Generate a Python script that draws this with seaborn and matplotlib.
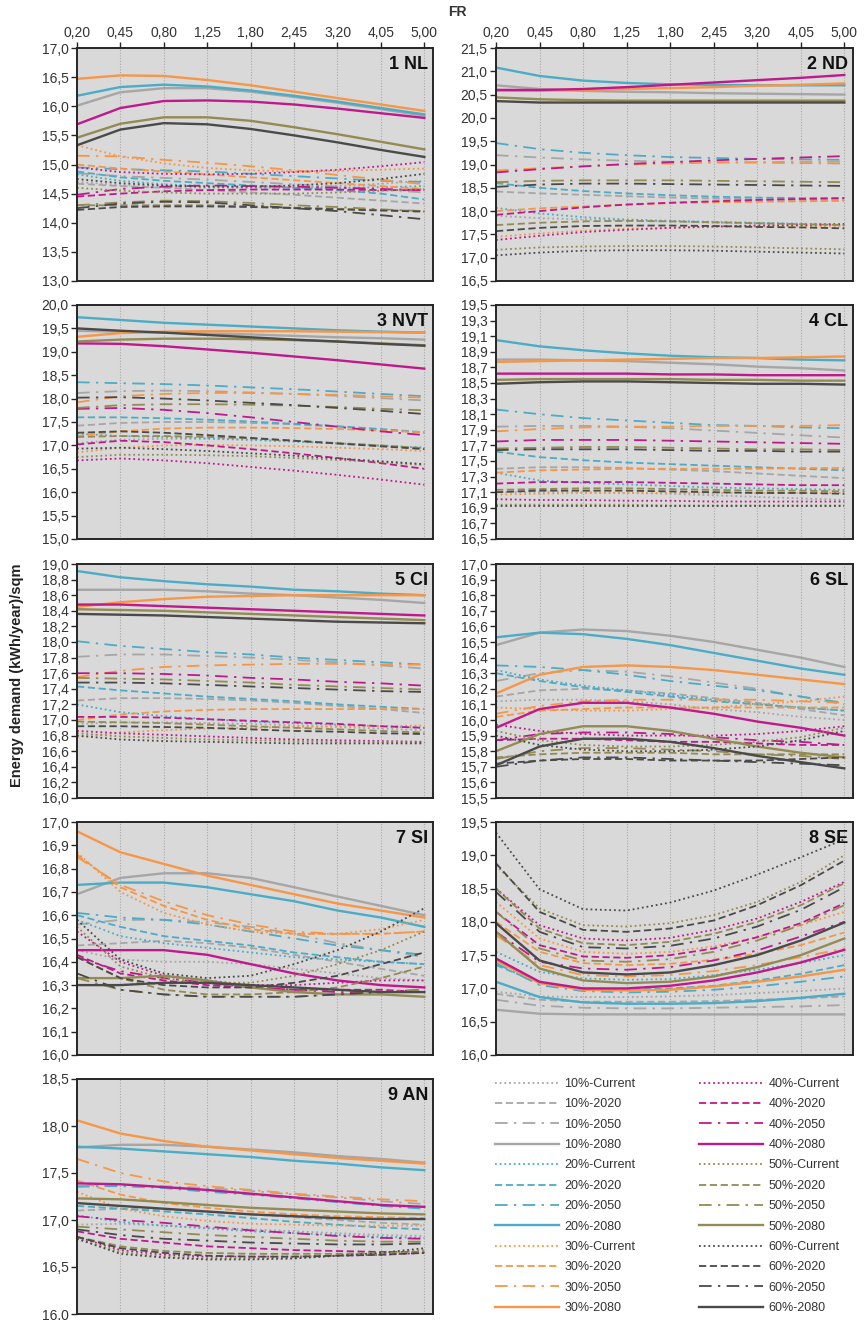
import numpy as np
import pandas as pd
import matplotlib
matplotlib.use("Agg")
import matplotlib.pyplot as plt
from matplotlib.lines import Line2D
from matplotlib.ticker import FuncFormatter
import seaborn as sns

# ---- data -----------------------------------------------------------------
FR_LABELS = ["0,20", "0,45", "0,80", "1,25", "1,80", "2,45", "3,20", "4,05", "5,00"]
SHARES = ["10%", "20%", "30%", "40%", "50%", "60%"]
PERIODS = ["Current", "2020", "2050", "2080"]
REGIONS = ["1 NL", "2 ND", "3 NVT", "4 CL", "5 CI", "6 SL", "7 SI", "8 SE", "9 AN"]

# rows: for each share (10% .. 60%) the periods Current, 2020, 2050, 2080
nl = [
    [14.70, 14.65, 14.62, 14.60, 14.60, 14.61, 14.63, 14.67, 14.72],
    [14.67, 14.63, 14.60, 14.56, 14.52, 14.48, 14.43, 14.38, 14.33],
    [14.85, 14.80, 14.77, 14.74, 14.70, 14.66, 14.62, 14.57, 14.52],
    [16.01, 16.24, 16.31, 16.31, 16.25, 16.16, 16.06, 15.95, 15.84],
    [14.83, 14.72, 14.66, 14.63, 14.61, 14.60, 14.60, 14.61, 14.63],
    [14.88, 14.78, 14.72, 14.68, 14.64, 14.60, 14.56, 14.50, 14.40],
    [14.95, 14.92, 14.90, 14.88, 14.84, 14.80, 14.76, 14.72, 14.70],
    [16.18, 16.33, 16.37, 16.34, 16.27, 16.18, 16.08, 15.97, 15.86],
    [15.33, 15.14, 15.02, 14.94, 14.90, 14.88, 14.89, 14.91, 14.93],
    [15.00, 14.93, 14.88, 14.83, 14.78, 14.73, 14.68, 14.63, 14.58],
    [15.15, 15.14, 15.08, 15.03, 14.97, 14.90, 14.82, 14.74, 14.66],
    [16.47, 16.53, 16.52, 16.45, 16.36, 16.25, 16.14, 16.03, 15.92],
    [14.95, 14.87, 14.84, 14.83, 14.84, 14.87, 14.91, 14.97, 15.04],
    [14.45, 14.50, 14.54, 14.56, 14.57, 14.57, 14.57, 14.56, 14.56],
    [14.48, 14.58, 14.62, 14.64, 14.63, 14.62, 14.60, 14.58, 14.56],
    [15.69, 15.97, 16.09, 16.10, 16.08, 16.03, 15.96, 15.88, 15.80],
    [14.60, 14.55, 14.52, 14.50, 14.50, 14.50, 14.52, 14.55, 14.58],
    [14.30, 14.30, 14.30, 14.30, 14.28, 14.26, 14.24, 14.22, 14.20],
    [14.30, 14.35, 14.38, 14.37, 14.34, 14.30, 14.27, 14.23, 14.20],
    [15.46, 15.70, 15.81, 15.81, 15.75, 15.64, 15.52, 15.39, 15.26],
    [14.75, 14.68, 14.64, 14.62, 14.62, 14.64, 14.68, 14.75, 14.84],
    [14.22, 14.27, 14.28, 14.28, 14.27, 14.25, 14.23, 14.21, 14.19],
    [14.25, 14.33, 14.36, 14.35, 14.30, 14.25, 14.20, 14.13, 14.06],
    [15.33, 15.60, 15.71, 15.69, 15.61, 15.50, 15.38, 15.25, 15.13],
]

nd = [
    [17.90, 17.85, 17.82, 17.80, 17.78, 17.75, 17.73, 17.71, 17.70],
    [18.42, 18.38, 18.35, 18.32, 18.29, 18.27, 18.25, 18.24, 18.23],
    [19.20, 19.15, 19.11, 19.08, 19.06, 19.05, 19.04, 19.03, 19.02],
    [20.70, 20.62, 20.58, 20.56, 20.55, 20.53, 20.52, 20.51, 20.50],
    [18.07, 17.95, 17.87, 17.82, 17.79, 17.77, 17.75, 17.73, 17.72],
    [18.60, 18.50, 18.43, 18.38, 18.34, 18.31, 18.29, 18.28, 18.27],
    [19.46, 19.33, 19.25, 19.20, 19.16, 19.14, 19.12, 19.11, 19.10],
    [21.08, 20.90, 20.80, 20.75, 20.72, 20.71, 20.70, 20.70, 20.70],
    [17.45, 17.52, 17.58, 17.62, 17.64, 17.66, 17.67, 17.67, 17.67],
    [18.00, 18.06, 18.10, 18.14, 18.17, 18.19, 18.20, 18.21, 18.22],
    [18.87, 18.92, 18.96, 19.00, 19.02, 19.04, 19.05, 19.06, 19.06],
    [20.58, 20.58, 20.60, 20.62, 20.64, 20.66, 20.69, 20.71, 20.74],
    [17.38, 17.47, 17.55, 17.60, 17.64, 17.67, 17.69, 17.70, 17.72],
    [17.92, 18.00, 18.08, 18.14, 18.18, 18.21, 18.24, 18.26, 18.28],
    [18.83, 18.90, 18.96, 19.01, 19.05, 19.09, 19.12, 19.15, 19.18],
    [20.60, 20.60, 20.62, 20.66, 20.71, 20.76, 20.81, 20.86, 20.92],
    [17.17, 17.22, 17.24, 17.25, 17.25, 17.24, 17.22, 17.20, 17.18],
    [17.70, 17.75, 17.78, 17.79, 17.78, 17.76, 17.74, 17.72, 17.70],
    [18.62, 18.65, 18.66, 18.66, 18.66, 18.65, 18.64, 18.63, 18.62],
    [20.44, 20.40, 20.38, 20.37, 20.37, 20.37, 20.37, 20.37, 20.37],
    [17.05, 17.11, 17.15, 17.16, 17.16, 17.15, 17.13, 17.11, 17.09],
    [17.57, 17.64, 17.68, 17.69, 17.69, 17.68, 17.66, 17.65, 17.63],
    [18.52, 18.57, 18.59, 18.59, 18.58, 18.57, 18.56, 18.55, 18.54],
    [20.36, 20.33, 20.33, 20.33, 20.33, 20.33, 20.33, 20.33, 20.33],
]

nvt = [
    [17.05, 17.12, 17.14, 17.14, 17.12, 17.09, 17.05, 17.00, 16.95],
    [17.42, 17.48, 17.50, 17.50, 17.48, 17.45, 17.40, 17.34, 17.27],
    [18.12, 18.16, 18.17, 18.16, 18.13, 18.10, 18.06, 18.01, 17.96],
    [19.45, 19.43, 19.41, 19.39, 19.37, 19.34, 19.31, 19.29, 19.26],
    [17.25, 17.20, 17.18, 17.15, 17.12, 17.08, 17.04, 16.99, 16.95],
    [17.60, 17.60, 17.58, 17.55, 17.51, 17.46, 17.41, 17.35, 17.28],
    [18.35, 18.33, 18.31, 18.28, 18.24, 18.20, 18.15, 18.10, 18.05],
    [19.74, 19.68, 19.62, 19.58, 19.54, 19.50, 19.46, 19.43, 19.41],
    [16.85, 16.95, 17.00, 17.01, 17.00, 16.98, 16.95, 16.92, 16.88],
    [17.20, 17.30, 17.36, 17.38, 17.38, 17.37, 17.35, 17.32, 17.28],
    [17.92, 18.05, 18.10, 18.12, 18.12, 18.10, 18.08, 18.05, 18.02],
    [19.32, 19.40, 19.43, 19.44, 19.44, 19.44, 19.43, 19.42, 19.41],
    [16.68, 16.72, 16.68, 16.62, 16.54, 16.46, 16.37, 16.27, 16.16],
    [17.02, 17.10, 17.07, 17.00, 16.92, 16.83, 16.73, 16.62, 16.50],
    [17.78, 17.80, 17.76, 17.69, 17.60, 17.50, 17.40, 17.30, 17.22],
    [19.18, 19.17, 19.12, 19.05, 18.98, 18.90, 18.82, 18.73, 18.64],
    [16.75, 16.80, 16.80, 16.79, 16.77, 16.73, 16.69, 16.64, 16.58],
    [17.18, 17.20, 17.20, 17.18, 17.15, 17.10, 17.05, 17.00, 16.94],
    [17.80, 17.86, 17.88, 17.88, 17.87, 17.85, 17.82, 17.78, 17.75],
    [19.22, 19.26, 19.28, 19.28, 19.27, 19.25, 19.22, 19.18, 19.14],
    [16.93, 16.95, 16.92, 16.88, 16.83, 16.78, 16.72, 16.66, 16.60],
    [17.27, 17.30, 17.27, 17.22, 17.16, 17.10, 17.04, 16.98, 16.92],
    [18.02, 18.03, 18.00, 17.96, 17.91, 17.86, 17.80, 17.74, 17.67],
    [19.50, 19.45, 19.41, 19.36, 19.31, 19.26, 19.22, 19.17, 19.13],
]

cl = [
    [17.10, 17.10, 17.10, 17.09, 17.08, 17.06, 17.04, 17.02, 17.00],
    [17.40, 17.42, 17.42, 17.41, 17.39, 17.37, 17.34, 17.31, 17.28],
    [17.94, 17.95, 17.95, 17.94, 17.92, 17.89, 17.86, 17.83, 17.80],
    [18.80, 18.80, 18.79, 18.78, 18.76, 18.74, 18.71, 18.69, 18.66],
    [17.35, 17.25, 17.22, 17.20, 17.18, 17.16, 17.15, 17.14, 17.13],
    [17.62, 17.55, 17.51, 17.48, 17.46, 17.44, 17.42, 17.40, 17.38],
    [18.16, 18.10, 18.05, 18.02, 17.99, 17.96, 17.95, 17.93, 17.92],
    [19.05, 18.97, 18.92, 18.88, 18.85, 18.83, 18.82, 18.80, 18.79],
    [17.07, 17.08, 17.09, 17.09, 17.09, 17.09, 17.09, 17.09, 17.09],
    [17.35, 17.38, 17.39, 17.40, 17.40, 17.40, 17.40, 17.41, 17.41],
    [17.88, 17.91, 17.93, 17.94, 17.94, 17.95, 17.95, 17.95, 17.96],
    [18.77, 18.78, 18.79, 18.80, 18.81, 18.82, 18.82, 18.83, 18.84],
    [17.01, 17.00, 17.00, 16.99, 16.99, 16.98, 16.98, 16.98, 16.98],
    [17.21, 17.23, 17.23, 17.23, 17.22, 17.21, 17.20, 17.19, 17.19],
    [17.75, 17.77, 17.77, 17.77, 17.76, 17.75, 17.74, 17.73, 17.72],
    [18.62, 18.62, 18.62, 18.62, 18.61, 18.61, 18.60, 18.60, 18.60],
    [16.94, 16.94, 16.94, 16.94, 16.93, 16.93, 16.93, 16.93, 16.93],
    [17.13, 17.14, 17.15, 17.15, 17.14, 17.13, 17.12, 17.12, 17.11],
    [17.66, 17.67, 17.68, 17.68, 17.67, 17.66, 17.65, 17.65, 17.64],
    [18.54, 18.55, 18.55, 18.55, 18.55, 18.54, 18.54, 18.53, 18.53],
    [16.92, 16.92, 16.92, 16.92, 16.92, 16.92, 16.92, 16.92, 16.92],
    [17.10, 17.12, 17.12, 17.12, 17.11, 17.10, 17.09, 17.09, 17.08],
    [17.64, 17.65, 17.65, 17.65, 17.64, 17.63, 17.63, 17.62, 17.62],
    [18.49, 18.51, 18.52, 18.52, 18.51, 18.50, 18.49, 18.49, 18.48],
]

ci = [
    [16.95, 16.97, 16.97, 16.96, 16.95, 16.93, 16.91, 16.89, 16.87],
    [17.25, 17.28, 17.28, 17.27, 17.25, 17.22, 17.18, 17.14, 17.09],
    [17.81, 17.84, 17.84, 17.82, 17.80, 17.77, 17.74, 17.70, 17.66],
    [18.67, 18.67, 18.67, 18.65, 18.62, 18.60, 18.57, 18.54, 18.50],
    [17.20, 17.10, 17.05, 17.01, 16.98, 16.96, 16.94, 16.92, 16.90],
    [17.43, 17.38, 17.34, 17.30, 17.27, 17.24, 17.20, 17.17, 17.14],
    [18.01, 17.95, 17.91, 17.87, 17.84, 17.80, 17.77, 17.74, 17.71],
    [18.91, 18.83, 18.78, 18.74, 18.71, 18.67, 18.65, 18.62, 18.60],
    [16.78, 16.84, 16.87, 16.89, 16.90, 16.91, 16.92, 16.92, 16.93],
    [17.00, 17.07, 17.11, 17.13, 17.14, 17.14, 17.14, 17.14, 17.14],
    [17.55, 17.63, 17.68, 17.70, 17.71, 17.72, 17.72, 17.71, 17.71],
    [18.45, 18.51, 18.55, 18.58, 18.59, 18.60, 18.60, 18.60, 18.60],
    [16.86, 16.83, 16.81, 16.79, 16.77, 16.75, 16.74, 16.73, 16.72],
    [17.04, 17.04, 17.03, 17.01, 16.99, 16.97, 16.95, 16.92, 16.90],
    [17.60, 17.60, 17.59, 17.57, 17.54, 17.52, 17.49, 17.47, 17.44],
    [18.48, 18.48, 18.46, 18.44, 18.42, 18.40, 18.38, 18.36, 18.34],
    [16.83, 16.79, 16.77, 16.75, 16.74, 16.73, 16.72, 16.72, 16.71],
    [16.98, 16.97, 16.96, 16.94, 16.92, 16.90, 16.88, 16.86, 16.84],
    [17.54, 17.53, 17.52, 17.50, 17.48, 17.45, 17.43, 17.41, 17.39],
    [18.42, 18.41, 18.40, 18.38, 18.36, 18.34, 18.32, 18.30, 18.28],
    [16.80, 16.75, 16.73, 16.72, 16.71, 16.70, 16.70, 16.70, 16.70],
    [16.92, 16.92, 16.91, 16.90, 16.88, 16.86, 16.85, 16.83, 16.82],
    [17.48, 17.48, 17.47, 17.45, 17.43, 17.41, 17.39, 17.37, 17.36],
    [18.36, 18.35, 18.34, 18.32, 18.30, 18.28, 18.26, 18.25, 18.24],
]

sl = [
    [16.12, 16.13, 16.13, 16.12, 16.10, 16.07, 16.05, 16.02, 16.00],
    [16.15, 16.19, 16.20, 16.19, 16.17, 16.14, 16.11, 16.07, 16.03],
    [16.25, 16.30, 16.32, 16.31, 16.28, 16.24, 16.20, 16.15, 16.10],
    [16.48, 16.56, 16.58, 16.57, 16.54, 16.50, 16.45, 16.40, 16.34],
    [16.32, 16.26, 16.22, 16.19, 16.16, 16.13, 16.10, 16.08, 16.06],
    [16.30, 16.25, 16.21, 16.18, 16.15, 16.12, 16.10, 16.08, 16.06],
    [16.35, 16.34, 16.32, 16.29, 16.25, 16.22, 16.19, 16.15, 16.11],
    [16.53, 16.56, 16.55, 16.52, 16.48, 16.43, 16.38, 16.33, 16.29],
    [16.08, 16.07, 16.06, 16.06, 16.07, 16.08, 16.10, 16.12, 16.15],
    [16.02, 16.06, 16.07, 16.08, 16.08, 16.08, 16.08, 16.08, 16.08],
    [16.04, 16.09, 16.12, 16.13, 16.13, 16.13, 16.13, 16.12, 16.11],
    [16.17, 16.29, 16.34, 16.35, 16.34, 16.32, 16.29, 16.26, 16.23],
    [15.97, 15.93, 15.91, 15.90, 15.90, 15.90, 15.91, 15.93, 15.96],
    [15.87, 15.88, 15.88, 15.87, 15.86, 15.86, 15.85, 15.84, 15.84],
    [15.87, 15.91, 15.92, 15.92, 15.91, 15.89, 15.87, 15.86, 15.84],
    [15.95, 16.07, 16.11, 16.11, 16.08, 16.04, 15.99, 15.95, 15.90],
    [15.93, 15.87, 15.84, 15.83, 15.83, 15.84, 15.86, 15.89, 15.95],
    [15.76, 15.78, 15.79, 15.79, 15.79, 15.78, 15.78, 15.78, 15.78],
    [15.75, 15.80, 15.82, 15.82, 15.81, 15.80, 15.78, 15.77, 15.75],
    [15.80, 15.91, 15.96, 15.96, 15.93, 15.88, 15.83, 15.79, 15.76],
    [15.90, 15.84, 15.81, 15.80, 15.80, 15.81, 15.83, 15.87, 15.93],
    [15.72, 15.74, 15.75, 15.75, 15.74, 15.74, 15.74, 15.75, 15.76],
    [15.70, 15.74, 15.76, 15.76, 15.75, 15.74, 15.73, 15.72, 15.71],
    [15.71, 15.83, 15.88, 15.88, 15.86, 15.82, 15.77, 15.73, 15.69],
]

si = [
    [16.45, 16.41, 16.40, 16.40, 16.39, 16.37, 16.35, 16.33, 16.32],
    [16.47, 16.48, 16.49, 16.48, 16.46, 16.43, 16.40, 16.37, 16.34],
    [16.56, 16.58, 16.58, 16.57, 16.55, 16.52, 16.48, 16.45, 16.42],
    [16.69, 16.76, 16.78, 16.78, 16.76, 16.72, 16.68, 16.64, 16.60],
    [16.58, 16.51, 16.48, 16.46, 16.44, 16.42, 16.41, 16.40, 16.39],
    [16.60, 16.55, 16.51, 16.49, 16.47, 16.44, 16.42, 16.40, 16.39],
    [16.61, 16.59, 16.58, 16.56, 16.53, 16.50, 16.47, 16.45, 16.43],
    [16.73, 16.74, 16.74, 16.72, 16.69, 16.66, 16.62, 16.59, 16.55],
    [16.87, 16.70, 16.61, 16.56, 16.53, 16.52, 16.52, 16.54, 16.58],
    [16.86, 16.72, 16.64, 16.58, 16.54, 16.52, 16.52, 16.52, 16.53],
    [16.85, 16.73, 16.66, 16.60, 16.56, 16.53, 16.52, 16.52, 16.53],
    [16.96, 16.87, 16.82, 16.77, 16.73, 16.69, 16.65, 16.62, 16.59],
    [16.53, 16.40, 16.34, 16.32, 16.30, 16.30, 16.31, 16.32, 16.32],
    [16.43, 16.35, 16.32, 16.30, 16.29, 16.28, 16.28, 16.28, 16.27],
    [16.42, 16.36, 16.33, 16.31, 16.29, 16.28, 16.27, 16.27, 16.28],
    [16.45, 16.45, 16.45, 16.43, 16.39, 16.35, 16.32, 16.30, 16.29],
    [16.55, 16.38, 16.33, 16.31, 16.31, 16.34, 16.39, 16.45, 16.53],
    [16.42, 16.33, 16.28, 16.26, 16.26, 16.27, 16.29, 16.33, 16.38],
    [16.33, 16.28, 16.26, 16.25, 16.25, 16.25, 16.26, 16.27, 16.28],
    [16.33, 16.33, 16.34, 16.32, 16.29, 16.27, 16.26, 16.26, 16.25],
    [16.58, 16.41, 16.35, 16.33, 16.34, 16.39, 16.45, 16.53, 16.63],
    [16.42, 16.33, 16.30, 16.29, 16.29, 16.31, 16.34, 16.39, 16.44],
    [16.35, 16.28, 16.26, 16.25, 16.25, 16.25, 16.26, 16.27, 16.27],
    [16.30, 16.30, 16.31, 16.31, 16.30, 16.29, 16.28, 16.27, 16.27],
]

se = [
    [16.95, 16.88, 16.87, 16.87, 16.88, 16.90, 16.93, 16.96, 17.00],
    [16.92, 16.83, 16.80, 16.80, 16.80, 16.81, 16.83, 16.85, 16.88],
    [16.83, 16.74, 16.71, 16.70, 16.70, 16.71, 16.72, 16.73, 16.75],
    [16.68, 16.62, 16.61, 16.61, 16.61, 16.61, 16.61, 16.61, 16.61],
    [17.55, 17.25, 17.15, 17.13, 17.14, 17.20, 17.28, 17.38, 17.50],
    [17.35, 17.08, 17.00, 16.98, 17.00, 17.04, 17.12, 17.22, 17.35],
    [17.38, 17.05, 16.96, 16.94, 16.95, 16.98, 17.03, 17.10, 17.18],
    [17.10, 16.87, 16.79, 16.77, 16.77, 16.78, 16.81, 16.86, 16.92],
    [18.30, 17.75, 17.55, 17.52, 17.55, 17.63, 17.77, 17.95, 18.15],
    [18.00, 17.55, 17.38, 17.35, 17.37, 17.43, 17.52, 17.65, 17.84],
    [17.80, 17.35, 17.20, 17.18, 17.20, 17.26, 17.35, 17.47, 17.60],
    [17.42, 17.08, 16.98, 16.97, 16.98, 17.03, 17.10, 17.18, 17.28],
    [18.50, 17.95, 17.75, 17.72, 17.76, 17.88, 18.05, 18.30, 18.60],
    [18.15, 17.65, 17.48, 17.46, 17.50, 17.60, 17.77, 17.98, 18.28],
    [17.85, 17.40, 17.30, 17.28, 17.32, 17.42, 17.57, 17.78, 18.00],
    [17.45, 17.10, 17.00, 17.00, 17.04, 17.12, 17.24, 17.39, 17.58],
    [18.85, 18.20, 17.95, 17.93, 17.98, 18.10, 18.30, 18.60, 19.00],
    [18.50, 17.90, 17.68, 17.65, 17.70, 17.82, 18.00, 18.25, 18.58],
    [18.15, 17.60, 17.42, 17.40, 17.44, 17.55, 17.72, 17.95, 18.25],
    [17.85, 17.30, 17.12, 17.08, 17.10, 17.18, 17.32, 17.50, 17.75],
    [19.34, 18.49, 18.19, 18.17, 18.29, 18.47, 18.71, 18.97, 19.24],
    [18.88, 18.15, 17.88, 17.85, 17.90, 18.02, 18.25, 18.55, 18.92],
    [18.45, 17.85, 17.62, 17.60, 17.64, 17.75, 17.93, 18.18, 18.52],
    [17.98, 17.42, 17.24, 17.21, 17.24, 17.35, 17.50, 17.72, 17.99],
]

an = [
    [16.95, 16.96, 16.94, 16.92, 16.90, 16.88, 16.86, 16.84, 16.83],
    [17.10, 17.12, 17.11, 17.09, 17.06, 17.03, 17.00, 16.97, 16.95],
    [17.35, 17.37, 17.36, 17.34, 17.31, 17.27, 17.24, 17.20, 17.17],
    [17.77, 17.80, 17.80, 17.78, 17.75, 17.72, 17.68, 17.65, 17.61],
    [17.05, 16.98, 16.94, 16.91, 16.88, 16.86, 16.84, 16.82, 16.81],
    [17.15, 17.12, 17.09, 17.06, 17.02, 16.98, 16.95, 16.92, 16.90],
    [17.36, 17.36, 17.34, 17.30, 17.27, 17.23, 17.19, 17.15, 17.12],
    [17.78, 17.76, 17.73, 17.70, 17.67, 17.63, 17.60, 17.56, 17.53],
    [17.30, 17.12, 17.04, 16.99, 16.96, 16.95, 16.94, 16.94, 16.94],
    [17.42, 17.27, 17.18, 17.13, 17.09, 17.06, 17.04, 17.03, 17.02],
    [17.65, 17.50, 17.41, 17.36, 17.32, 17.28, 17.25, 17.22, 17.20],
    [18.06, 17.92, 17.84, 17.78, 17.74, 17.70, 17.66, 17.63, 17.60],
    [16.82, 16.68, 16.63, 16.61, 16.61, 16.61, 16.62, 16.63, 16.65],
    [16.88, 16.80, 16.76, 16.72, 16.70, 16.68, 16.67, 16.66, 16.66],
    [17.04, 17.00, 16.97, 16.93, 16.89, 16.86, 16.83, 16.81, 16.80],
    [17.39, 17.38, 17.35, 17.32, 17.28, 17.24, 17.20, 17.16, 17.14],
    [16.80, 16.66, 16.61, 16.59, 16.59, 16.60, 16.62, 16.64, 16.68],
    [16.82, 16.72, 16.67, 16.65, 16.64, 16.64, 16.64, 16.65, 16.66],
    [16.93, 16.90, 16.87, 16.84, 16.82, 16.80, 16.78, 16.77, 16.77],
    [17.23, 17.22, 17.19, 17.16, 17.13, 17.11, 17.09, 17.07, 17.06],
    [16.80, 16.64, 16.60, 16.58, 16.58, 16.59, 16.62, 16.65, 16.70],
    [16.82, 16.70, 16.65, 16.62, 16.61, 16.61, 16.62, 16.63, 16.65],
    [16.90, 16.84, 16.80, 16.78, 16.76, 16.75, 16.74, 16.74, 16.75],
    [17.18, 17.15, 17.12, 17.09, 17.06, 17.04, 17.02, 17.01, 17.01],
]

PANELS = [nl, nd, nvt, cl, ci, sl, si, se, an]

# y-axis range and tick step per region
Y_LIMITS = [(13.0, 17.0, 0.5), (16.5, 21.5, 0.5), (15.0, 20.0, 0.5),
            (16.5, 19.5, 0.2), (16.0, 19.0, 0.2), (15.5, 17.0, 0.1),
            (16.0, 17.0, 0.1), (16.0, 19.5, 0.5), (16.0, 18.5, 0.5)]

# ---- styles ---------------------------------------------------------------
COLORS = {"10%": "#a6a6a6", "20%": "#4bacc6", "30%": "#f79646",
          "40%": "#c0198c", "50%": "#948a54", "60%": "#4a4a4a"}
DASHES = {"Current": (1.0, 1.6), "2020": (4.0, 2.0),
          "2050": (7.0, 3.5, 1.3, 3.5), "2080": ""}
WIDTHS = {"Current": 1.3, "2020": 1.3, "2050": 1.3, "2080": 1.7}

FONT = ["Liberation Sans", "DejaVu Sans"]
plt.rcParams["font.family"] = FONT
TEXT_COLOR = "#333333"

W, H = 866, 1320
fig = plt.figure(figsize=(W / 100, H / 100), dpi=100)
fig.patch.set_facecolor("white")

COL_X = [(77, 433), (496, 853)]
ROW_Y = [(48, 281), (305, 539), (564, 798), (822, 1055), (1079, 1314)]


def long_frame(rows):
    recs = []
    for i, vals in enumerate(rows):
        share = SHARES[i // 4]
        period = PERIODS[i % 4]
        for pos, v in enumerate(vals):
            recs.append({"pos": pos, "value": v, "share": share, "period": period})
    return pd.DataFrame(recs)


def fmt_comma(v, _):
    return f"{v:.1f}".replace(".", ",")


for k, (name, rows, (lo, hi, step)) in enumerate(zip(REGIONS, PANELS, Y_LIMITS)):
    r, c = divmod(k, 2)
    x0, x1 = COL_X[c]
    y0, y1 = ROW_Y[r]
    ax = fig.add_axes([x0 / W, 1 - y1 / H, (x1 - x0) / W, (y1 - y0) / H])
    ax.set_facecolor("#d9d9d9")

    df = long_frame(rows)
    sns.lineplot(data=df, x="pos", y="value", hue="share", style="period",
                 size="period", palette=COLORS, dashes=DASHES, sizes=WIDTHS,
                 hue_order=SHARES, style_order=PERIODS, size_order=PERIODS,
                 estimator=None, legend=False, ax=ax)

    ax.set_xlim(0, 8.2)
    ax.set_ylim(lo, hi)
    n = int(round((hi - lo) / step))
    ax.set_yticks([lo + i * step for i in range(n + 1)])
    ax.yaxis.set_major_formatter(FuncFormatter(fmt_comma))
    ax.set_xticks(range(len(FR_LABELS)))
    ax.grid(False)
    for xv in range(1, len(FR_LABELS)):
        ax.axvline(xv, color="#a8a8a8", lw=0.8, ls=(0, (1, 1.5)), zorder=0.5)
    ax.set_xlabel("")
    ax.set_ylabel("")
    for s in ax.spines.values():
        s.set_color("#262626")
        s.set_linewidth(1.4)
    ax.tick_params(axis="y", direction="out", length=4, width=1, color="#262626",
                   labelsize=10, labelcolor=TEXT_COLOR, pad=2)
    if r == 0:
        ax.xaxis.tick_top()
        ax.set_xticklabels(FR_LABELS)
        ax.tick_params(axis="x", direction="out", length=4, width=1, color="#262626",
                       labelsize=10, labelcolor=TEXT_COLOR, pad=2)
    else:
        ax.tick_params(axis="x", length=0, labelbottom=False, labeltop=False)
    ax.text(0.986, 0.965, name, transform=ax.transAxes, ha="right", va="top",
            fontsize=13, fontweight="bold", color="#111111")

# shared axis titles
fig.text(457 / W, 1 - 12 / H, "FR", ha="center", va="center", fontsize=10,
         fontweight="bold", color=TEXT_COLOR)
fig.text(17 / W, 1 - 675 / H, "Energy demand (kWh/year)/sqm", rotation=90,
         ha="center", va="center", fontsize=10.5, fontweight="bold", color="#222222")

# legend
handles, labels = [], []
for share in SHARES:
    for period in PERIODS:
        dash = DASHES[period]
        h = Line2D([0], [0], color=COLORS[share], lw=WIDTHS[period])
        if dash:
            h.set_dashes(dash)
        handles.append(h)
        labels.append(f"{share}-{period}")
fig.legend(handles, labels, ncol=2, loc="upper left",
           bbox_to_anchor=(495 / W, 1 - 1078 / H), frameon=False, fontsize=9,
           handlelength=5.1, handletextpad=0.45, columnspacing=5.1,
           labelspacing=0.67, borderpad=0, borderaxespad=0, labelcolor=TEXT_COLOR)

fig.savefig("out.png", dpi=100, facecolor="white")
